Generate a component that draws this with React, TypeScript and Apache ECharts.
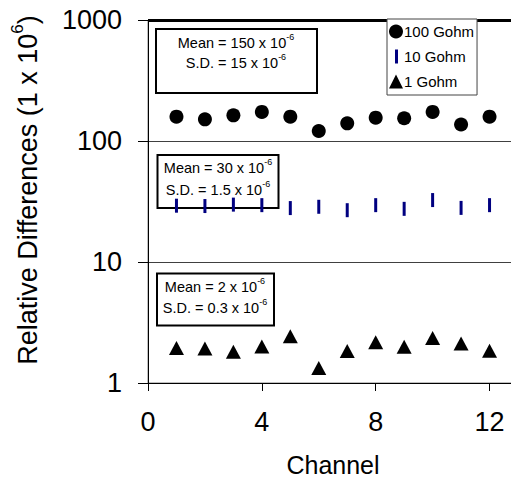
import React, { useEffect, useRef } from 'react';
import * as echarts from 'echarts';

const channels = [1, 2, 3, 4, 5, 6, 7, 8, 9, 10, 11, 12];
const gohm100 = [159, 151, 163, 174, 159, 121, 140, 156, 154, 174, 137, 159];
const gohm10 = [29.2, 29.0, 29.8, 29.5, 27.9, 28.6, 26.8, 29.5, 27.5, 32.5, 28.0, 29.5];
const gohm1 = [1.95, 1.93, 1.81, 2.0, 2.43, 1.33, 1.84, 2.17, 1.99, 2.35, 2.12, 1.85];
const seriesNames = ['100 Gohm', '10 Gohm', '1 Gohm'];
const xTicks = [0, 4, 8, 12];
const statMeans = ['150', '30', '2'];
const statSDs = ['15', '1.5', '0.3'];
const topLineValue = 1000;

const FONT = '"Liberation Sans", Arial, sans-serif';

function statText(label: string, value: string, x: number, y: number) {
  return {
    type: 'text',
    x,
    y,
    style: {
      text: `{m|${label} = ${value} x 10}{s|-6}`,
      rich: {
        m: { fontSize: 14.5, fontFamily: FONT, fill: '#000', lineHeight: 18, verticalAlign: 'bottom' },
        s: { fontSize: 9, fontFamily: FONT, fill: '#000', lineHeight: 11, verticalAlign: 'top' },
      },
      align: 'center',
      verticalAlign: 'middle',
      textAlign: 'center',
      textVerticalAlign: 'middle',
    },
  };
}

const boxes = [
  { x: 156, y: 29, w: 161, h: 64, cx: 236, l1: 41, l2: 61 },
  { x: 157.5, y: 155, w: 121, h: 53, cx: 218, l1: 166, l2: 188 },
  { x: 157, y: 273.5, w: 117, h: 52, cx: 215, l1: 285, l2: 306 },
];

export default function App() {
  const ref = useRef<HTMLDivElement>(null);
  useEffect(() => {
    if (!ref.current) return;
    const chart = echarts.init(ref.current, undefined, { renderer: 'svg' });
    const graphics: any[] = [];
    boxes.forEach((b, i) => {
      graphics.push({
        type: 'rect',
        shape: { x: b.x, y: b.y, width: b.w, height: b.h },
        style: { fill: '#fff', stroke: '#000', lineWidth: 2 },
        z: 1,
      });
      graphics.push({ ...statText('Mean', statMeans[i], b.cx, b.l1), z: 1 });
      graphics.push({ ...statText('S.D.', statSDs[i], b.cx, b.l2), z: 1 });
    });
    graphics.push({
      type: 'text',
      x: 25,
      y: 190,
      rotation: Math.PI / 2,
      style: {
        text: '{n|Relative Differences (1 x 10}{s|6}{n|)}',
        rich: {
          n: { fontSize: 27, fontFamily: FONT, fill: '#000', lineHeight: 32, verticalAlign: 'bottom' },
          s: { fontSize: 17, fontFamily: FONT, fill: '#000', lineHeight: 17, verticalAlign: 'top' },
        },
        align: 'center',
        verticalAlign: 'middle',
        textAlign: 'center',
        textVerticalAlign: 'middle',
      },
    });

    const mk = (vals: number[]) => channels.map((c, i) => [c, vals[i]]);

    chart.setOption({
      animation: false,
      backgroundColor: '#fff',
      grid: {
        left: 148,
        right: 1,
        top: 20,
        bottom: 94,
        show: true,
        borderColor: '#808080',
        borderWidth: 1,
        backgroundColor: 'transparent',
      },
      legend: {
        orient: 'vertical',
        left: 387,
        top: 19,
        padding: [5, 3, 6, 2],
        itemGap: 10,
        itemWidth: 14,
        itemHeight: 14,
        borderColor: '#444',
        borderWidth: 1,
        backgroundColor: '#fff',
        data: [
          { name: seriesNames[0], icon: 'circle' },
          { name: seriesNames[1], icon: 'path://M0,0M14,14M6,0h3v14h-3z' },
          { name: seriesNames[2], icon: 'triangle' },
        ],
        textStyle: { fontSize: 15, fontFamily: FONT, color: '#000', padding: [0, 0, 0, -4] },
        z: 12,
      },
      xAxis: {
        type: 'value',
        min: 0,
        max: 13,
        interval: 4,
        name: 'Channel',
        nameLocation: 'middle',
        nameGap: 69,
        nameTextStyle: { fontSize: 25, fontFamily: FONT, color: '#000' },
        axisLine: { show: true, onZero: false, lineStyle: { color: '#000', width: 1 } },
        axisTick: { show: true, length: 8, customValues: xTicks, lineStyle: { color: '#000' } },
        axisLabel: { customValues: xTicks, fontSize: 27, fontFamily: FONT, color: '#000', margin: 25 },
        splitLine: { show: false },
      },
      yAxis: {
        type: 'log',
        logBase: 10,
        min: 1,
        max: 1000,
        axisLine: { show: true, lineStyle: { color: '#000', width: 1 } },
        axisTick: { show: true, length: 10, lineStyle: { color: '#000' } },
        axisLabel: {
          fontSize: 27,
          fontFamily: FONT,
          color: '#000',
          margin: 26,
          formatter: (v: number) => String(Math.round(v)),
        },
        splitLine: { show: true, lineStyle: { color: '#404040', width: 1 } },
        minorTick: { show: false },
        minorSplitLine: { show: false },
      },
      graphic: graphics,
      series: [
        {
          name: seriesNames[0],
          type: 'scatter',
          symbol: 'circle',
          symbolSize: 14,
          z: 3,
          itemStyle: { color: '#000', opacity: 1 },
          data: mk(gohm100),
          markLine: {
            silent: true,
            symbol: 'none',
            label: { show: false },
            lineStyle: { color: '#000', width: 3, type: 'solid', opacity: 1 },
            data: [{ yAxis: topLineValue }],
          },
        },
        {
          name: seriesNames[1],
          type: 'scatter',
          symbol: 'rect',
          symbolSize: [3, 14],
          z: 3,
          itemStyle: { color: '#000080', opacity: 1 },
          data: mk(gohm10),
        },
        {
          name: seriesNames[2],
          type: 'scatter',
          symbol: 'triangle',
          symbolSize: [15, 14],
          z: 3,
          itemStyle: { color: '#000', opacity: 1 },
          data: mk(gohm1),
        },
      ],
    });
    return () => chart.dispose();
  }, []);
  return <div ref={ref} style={{ width: 519, height: 482, margin: -8 }} />;
}
